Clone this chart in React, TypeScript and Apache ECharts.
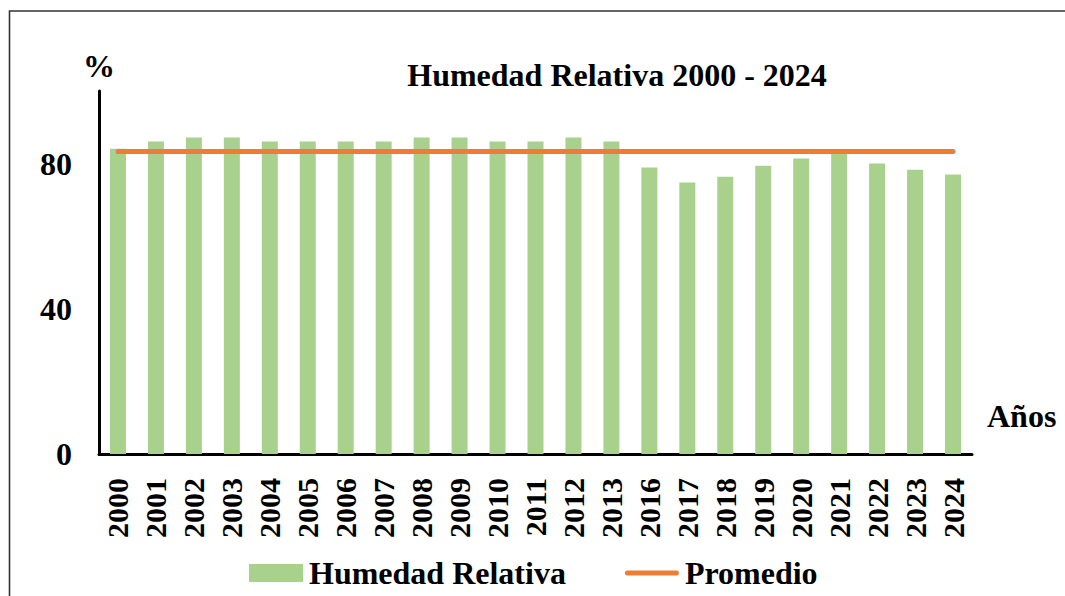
import React, { useEffect, useRef } from "react";
import * as echarts from "echarts";

const years = ["2000","2001","2002","2003","2004","2005","2006","2007","2008","2009","2010","2011","2012","2013","2016","2017","2018","2019","2020","2021","2022","2023","2024"];
const humedad = [84.1,86.1,87.2,87.2,86.1,86.1,86.1,86.1,87.2,87.2,86.1,86.1,87.2,86.1,78.9,74.8,76.4,79.4,81.4,83.0,80.0,78.3,77.0];
const promedioValue = 83.3;
const promedio = years.map(() => promedioValue);
const yTicks = { min: 0, max: 100, interval: 40 };

const FONT = "'Liberation Serif', 'Times New Roman', serif";

export default function App() {
  const ref = useRef<HTMLDivElement>(null);
  useEffect(() => {
    document.body.style.margin = "0";
    const chart = echarts.init(ref.current!, null, { renderer: "svg" });
    chart.setOption({
      animation: false,
      backgroundColor: "#ffffff",
      textStyle: { fontFamily: FONT },
      grid: { left: 99, right: 93, top: 91, bottom: 142, containLabel: false },
      graphic: [
        { type: "rect", shape: { x: 9.5, y: 11, width: 1200, height: 800 }, style: { fill: "none", stroke: "#333", lineWidth: 1.6 }, silent: true },
        { type: "text", x: 617, y: 75, style: { text: "Humedad Relativa 2000 - 2024", font: `bold 32px ${FONT}`, fill: "#000", textAlign: "center", textVerticalAlign: "middle" } },
        { type: "text", x: 99, y: 66, style: { text: "%", font: `bold 32px ${FONT}`, fill: "#000", textAlign: "center", textVerticalAlign: "middle" } },
        { type: "text", x: 987, y: 416, style: { text: "Años", font: `bold 32px ${FONT}`, fill: "#000", textAlign: "left", textVerticalAlign: "middle" } },
      ],
      legend: {
        left: 244,
        top: 552,
        itemWidth: 54,
        itemHeight: 18,
        itemGap: 59,
        symbolKeepAspect: true,
        textStyle: { fontSize: 32, fontWeight: "bold", fontFamily: FONT, color: "#000", padding: [0, 0, 0, 1] },
        data: [
          { name: "Humedad Relativa", icon: "rect" },
          { name: "Promedio", icon: "path://M2.5,0 L51.5,0 A2.5,2.5 0 0 1 51.5,5 L2.5,5 A2.5,2.5 0 0 1 2.5,0 Z", itemStyle: { color: "#ED7D31" } },
        ],
      },
      xAxis: {
        type: "category",
        data: years,
        boundaryGap: true,
        axisLine: { lineStyle: { color: "#000", width: 3 } },
        axisTick: { show: false },
        axisLabel: { rotate: 90, fontSize: 30, fontWeight: "bold", fontFamily: FONT, color: "#000", margin: 24, interval: 0 },
      },
      yAxis: {
        type: "value",
        min: yTicks.min,
        max: yTicks.max,
        interval: yTicks.interval,
        axisLine: { show: true, lineStyle: { color: "#000", width: 3 } },
        axisTick: { show: false },
        splitLine: { show: false },
        axisLabel: { fontSize: 32, fontWeight: "bold", fontFamily: FONT, color: "#000", margin: 27, showMaxLabel: false },
      },
      series: [
        {
          name: "Humedad Relativa",
          type: "bar",
          data: humedad,
          barWidth: 16,
          itemStyle: { color: "#A9D18E" },
        },
        {
          name: "Promedio",
          type: "line",
          data: promedio,
          symbol: "none",
          lineStyle: { color: "#ED7D31", width: 5, cap: "round" },
          itemStyle: { color: "#ED7D31" },
        },
      ],
    });
    return () => chart.dispose();
  }, []);
  return <div ref={ref} style={{ width: 1065, height: 596 }} />;
}
